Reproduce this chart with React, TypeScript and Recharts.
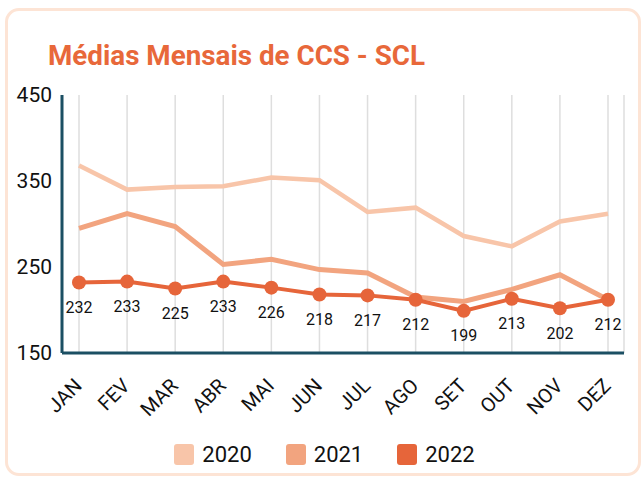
import React from "react";
import { LineChart, Line, XAxis, YAxis, CartesianGrid, LabelList } from "recharts";

const months = ["JAN", "FEV", "MAR", "ABR", "MAI", "JUN", "JUL", "AGO", "SET", "OUT", "NOV", "DEZ"];
const s2020 = [368, 340, 343, 344, 354, 351, 314, 319, 286, 274, 303, 312];
const s2021 = [295, 312, 297, 253, 259, 247, 243, 215, 210, 224, 241, 212];
const s2022 = [232, 233, 225, 233, 226, 218, 217, 212, 199, 213, 202, 212];
const yTicks = [150, 250, 350, 450];
const seriesNames = ["2020", "2021", "2022"];
const colors = ["#F8C5A9", "#F2A47F", "#E6653A"];

const data = months.map((m, i) => ({ month: m, y2020: s2020[i], y2021: s2021[i], y2022: s2022[i] }));

const FONT = "Roboto, 'DejaVu Sans', sans-serif";

const XTick = (props: any) => {
  const { x, y, payload } = props;
  return (
    <g transform={`translate(${x + 4},${y + 34})`}>
      <text x={0} y={0} textAnchor="end" transform="rotate(-45)" fontSize={20} fill="#111" fontFamily={FONT}>
        {payload.value}
      </text>
    </g>
  );
};

export default function App() {
  return (
    <div style={{ position: "absolute", left: 0, top: 0, width: 641, height: 479, overflow: "hidden", background: "#fff" }}>
      <div
        style={{
          position: "absolute",
          left: 5,
          top: 8,
          width: 636,
          height: 468,
          border: "3px solid #FDE4D5",
          borderRadius: 14,
          boxSizing: "border-box",
        }}
      />
      <svg style={{ position: "absolute", left: 0, top: 0 }} width={641} height={80}>
        <text x={48} y={65} fontSize={28} fontWeight={700} fill="#E8683A" fontFamily={FONT} textLength={377} lengthAdjust="spacingAndGlyphs">
          Médias Mensais de CCS - SCL
        </text>
      </svg>
      <div style={{ position: "absolute", left: 0, top: 0 }}>
        <LineChart width={641} height={479} data={data} margin={{ top: 95, right: 17, bottom: 0, left: 0 }}>
          <CartesianGrid horizontal={false} stroke="#dedede" strokeWidth={1.5} />
          <XAxis
            dataKey="month"
            height={126}
            padding={{ left: 17, right: 16 }}
            axisLine={{ stroke: "#1B4F63", strokeWidth: 3 }}
            tickLine={false}
            tickSize={0}
            tickMargin={0}
            interval={0}
            tick={<XTick />}
          />
          <YAxis
            width={62}
            domain={[150, 450]}
            ticks={yTicks}
            axisLine={{ stroke: "#1B4F63", strokeWidth: 3 }}
            tickLine={false}
            tickSize={6}
            tickMargin={4}
            tick={{ fontSize: 21, fill: "#111", fontFamily: FONT }}
          />
          <Line dataKey="y2020" stroke={colors[0]} strokeWidth={4.5} dot={false} isAnimationActive={false} />
          <Line dataKey="y2021" stroke={colors[1]} strokeWidth={5} dot={false} isAnimationActive={false} />
          <Line
            dataKey="y2022"
            stroke={colors[2]}
            strokeWidth={4}
            dot={{ r: 7, fill: colors[2], stroke: colors[2], strokeWidth: 0 }}
            isAnimationActive={false}
          >
            <LabelList dataKey="y2022" position="bottom" offset={19} fontSize={16} fill="#111" fontFamily={FONT} />
          </Line>
        </LineChart>
      </div>
      <div
        style={{
          position: "absolute",
          left: 4,
          top: 444,
          width: 641,
          display: "flex",
          justifyContent: "center",
          gap: 34,
          fontFamily: FONT,
          fontSize: 22,
          color: "#111",
        }}
      >
        {seriesNames.map((n, i) => (
          <div key={n} style={{ display: "flex", alignItems: "center", gap: 8 }}>
            <div style={{ width: 20, height: 21, borderRadius: 3, background: colors[i] }} />
            <span style={{ lineHeight: "21px" }}>{n}</span>
          </div>
        ))}
      </div>
    </div>
  );
}
